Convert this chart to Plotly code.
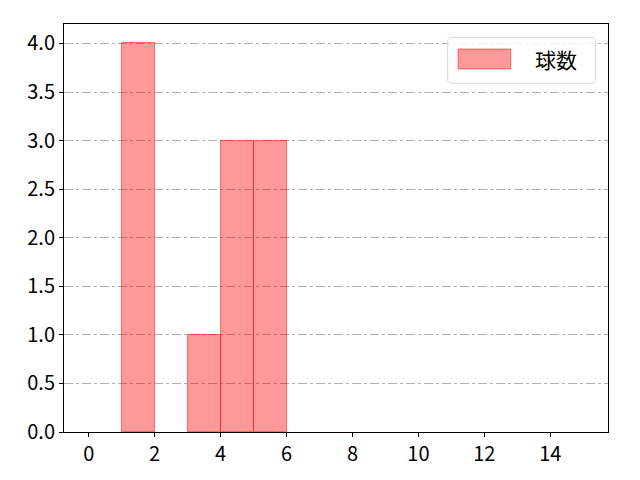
import plotly.graph_objects as go

# ビンの左端と度数
bin_left = [0, 1, 2, 3, 4, 5, 6, 7, 8, 9, 10, 11, 12, 13, 14]
counts = [0, 4, 0, 1, 3, 3, 0, 0, 0, 0, 0, 0, 0, 0, 0]
series_name = "球数"

x_ticks = [0, 2, 4, 6, 8, 10, 12, 14]
y_ticks = [0.0, 0.5, 1.0, 1.5, 2.0, 2.5, 3.0, 3.5, 4.0]

# 度数0のビンは描かない(底辺に線が出るため)
bx = [b for b, c in zip(bin_left, counts) if c > 0]
by = [c for c in counts if c > 0]

fill = "rgba(255,0,0,0.4)"
edge = "rgba(255,0,0,0.5)"

fig = go.Figure()
fig.add_trace(go.Bar(
    x=bx, y=by, width=1, offset=0, name=series_name,
    marker=dict(color=fill, line=dict(color=edge, width=1)),
    showlegend=False,
))

# 凡例 (matplotlib風の枠)
lx0, lx1, ly0, ly1 = 0.7053, 0.9767, 0.8547, 0.9674
rx, ry = 0.008, 0.011
legend_path = (f"M{lx0+rx},{ly1} L{lx1-rx},{ly1} Q{lx1},{ly1} {lx1},{ly1-ry} "
               f"L{lx1},{ly0+ry} Q{lx1},{ly0} {lx1-rx},{ly0} L{lx0+rx},{ly0} "
               f"Q{lx0},{ly0} {lx0},{ly0+ry} L{lx0},{ly1-ry} Q{lx0},{ly1} {lx0+rx},{ly1} Z")
fig.add_shape(type="path", path=legend_path, xref="paper", yref="paper",
              line=dict(color="#d5d5d5", width=1), fillcolor="rgba(255,255,255,0.8)")
fig.add_shape(type="rect", xref="paper", yref="paper", x0=0.7243, x1=0.8211, y0=0.8897, y1=0.9387,
              fillcolor=fill, line=dict(color=edge, width=1))
fig.add_annotation(text=series_name, xref="paper", yref="paper", x=0.862, y=0.9142,
                   xanchor="left", yanchor="middle", showarrow=False,
                   font=dict(size=21, color="black"))

fig.update_layout(
    width=640, height=480,
    margin=dict(l=56, r=40, t=16, b=56),
    paper_bgcolor="white", plot_bgcolor="white",
    font=dict(family="Noto Sans CJK JP", size=20, color="black"),
    bargap=0,
)
fig.update_xaxes(range=[-0.75, 15.75], tickvals=x_ticks, showgrid=False,
                 showline=True, linecolor="black", linewidth=1, mirror=True,
                 ticks="outside", ticklen=4, tickcolor="black", zeroline=False)
fig.update_yaxes(range=[0, 4.2], tickvals=y_ticks, tickformat=".1f",
                 showgrid=True, gridcolor="#b0b0b0", gridwidth=1, griddash="dashdot",
                 showline=True, linecolor="black", linewidth=1, mirror=True,
                 ticks="outside", ticklen=4, tickcolor="black", zeroline=False)

fig.write_html("out.html")
